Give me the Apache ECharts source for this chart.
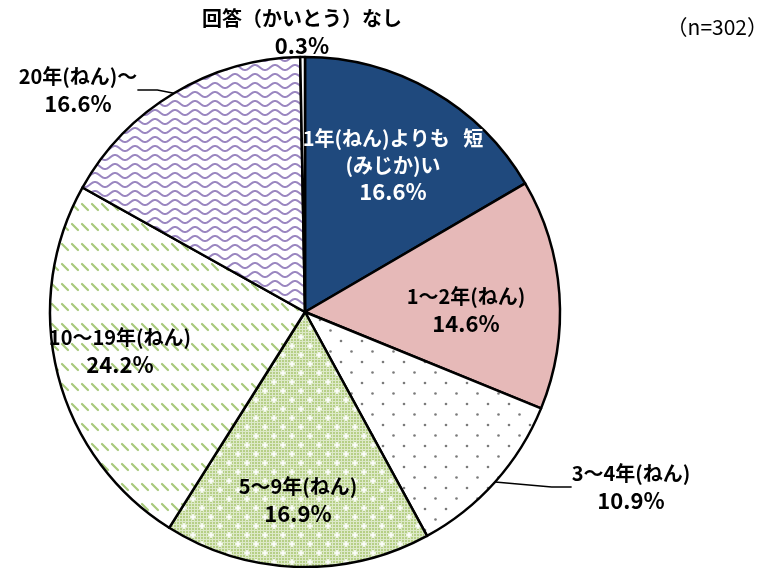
<!DOCTYPE html>
<html>
<head>
<meta charset="utf-8">
<script src="https://cdn.jsdelivr.net/npm/echarts@6/dist/echarts.min.js"></script>
<style>
html,body{margin:0;padding:0;background:#fff;}
#pie{width:777px;height:568px;}
</style>
</head>
<body>
<div id="pie"></div>
<script>
// 回答の内訳（n=302）
var categories = ['1年(ねん)よりも   短\n(みじか)い', '1～2年(ねん)', '3～4年(ねん)', '5～9年(ねん)', '10～19年(ねん)', '20年(ねん)～', '回答（かいとう）なし'];
var values = [16.6, 14.6, 10.9, 16.9, 24.2, 16.6, 0.3];
var sampleNote = '（n=302）';

/*---------------- patterns ----------------*/
function makeTile(w, h, draw){
    var c = document.createElement('canvas');
    c.width = w; c.height = h;
    var ctx = c.getContext('2d');
    ctx.fillStyle = '#fff';
    ctx.fillRect(0, 0, w, h);
    draw(ctx);
    return {image: c, repeat: 'repeat'};
}

var dots = makeTile(21, 21, function(ctx){
    ctx.fillStyle = '#7a7a7a';
    [[5, 5], [15.5, 15.5]].forEach(function(p){
        ctx.beginPath(); ctx.arc(p[0], p[1], 1.3, 0, Math.PI * 2); ctx.fill();
    });
});

var greenCheck = makeTile(18, 18, function(ctx){
    ctx.fillStyle = '#dde9c8';
    ctx.fillRect(0, 0, 18, 18);
    ctx.fillStyle = '#b6cf86';
    for (var x = 0; x < 18; x += 3){
        for (var y = 0; y < 18; y += 3){
            ctx.fillRect(x, y, 2, 2);
        }
    }
    ctx.strokeStyle = '#fff';
    ctx.lineWidth = 1.5;
    [[4, 4], [13, 13]].forEach(function(p){
        ctx.beginPath();
        ctx.moveTo(p[0] - 3, p[1]); ctx.lineTo(p[0] + 3, p[1]);
        ctx.moveTo(p[0], p[1] - 3); ctx.lineTo(p[0], p[1] + 3);
        ctx.stroke();
    });
});

var slashes = makeTile(10, 20, function(ctx){
    ctx.strokeStyle = '#a8c97c';
    ctx.lineWidth = 2.2;
    ctx.lineCap = 'round';
    ctx.beginPath(); ctx.moveTo(2, 4); ctx.lineTo(8, 10); ctx.stroke();
});

var waves = makeTile(20, 9, function(ctx){
    ctx.strokeStyle = '#9a86c0';
    ctx.lineWidth = 2;
    ctx.beginPath();
    for (var x = -2; x <= 22; x += 0.5){
        var y = 4.5 + 2.5 * Math.sin(2 * Math.PI * x / 20);
        if (x === -2) ctx.moveTo(x, y); else ctx.lineTo(x, y);
    }
    ctx.stroke();
});

var fills = ['#1f497d', '#e6b9b8', dots, greenCheck, slashes, waves, '#fff'];
var labelPos = [[393, 165], [466, 310], [631, 487], [298, 500], [120, 351], [78, 90], [302, 32]];
var outsideIdx = [2, 5, 6];
var lineIdx = [2, 5];

(function setpie(){
    var chartPie = echarts.init(document.getElementById('pie'));
    var seriesData = values.map(function(v, i){
        var txtColor = i === 0 ? '#fff' : '#000';
        return {
            value: v,
            name: categories[i],
            itemStyle: {color: fills[i]},
            label: {
                position: outsideIdx.indexOf(i) >= 0 ? 'outside' : 'inside',
                color: txtColor,
                rich: {
                    pct: {fontSize: 22, fontWeight: 'bold', lineHeight: 27, color: txtColor, fontFamily: 'Noto Sans CJK JP'}
                }
            },
            labelLine: {show: lineIdx.indexOf(i) >= 0}
        };
    });
    var option = {
        animation: false,
        title: {
            text: sampleNote,
            right: 4,
            top: 12,
            textStyle: {
                fontSize: 21,
                fontWeight: 'normal',
                color: '#000',
                fontFamily: 'Noto Sans CJK JP'
            }
        },
        series: [
            {
                type: 'pie',
                center: [305, 312],
                radius: 255,
                startAngle: 90,
                avoidLabelOverlap: false,
                itemStyle: {borderColor: '#000', borderWidth: 2.5},
                label: {
                    show: true,
                    fontSize: 20,
                    fontWeight: 'bold',
                    lineHeight: 27,
                    align: 'center',
                    fontFamily: 'Noto Sans CJK JP',
                    formatter: function(p){
                        return p.name + '\n{pct|' + p.value.toFixed(1) + '%}';
                    }
                },
                labelLine: {
                    length: 10,
                    length2: 20,
                    lineStyle: {color: '#000', width: 1.5}
                },
                labelLayout: function(params){
                    var p = labelPos[params.dataIndex];
                    return {x: p[0], y: p[1], align: 'center', verticalAlign: 'middle'};
                },
                emphasis: {disabled: true},
                data: seriesData
            }
        ]
    };
    chartPie.setOption(option);
})();
</script>
</body>
</html>
